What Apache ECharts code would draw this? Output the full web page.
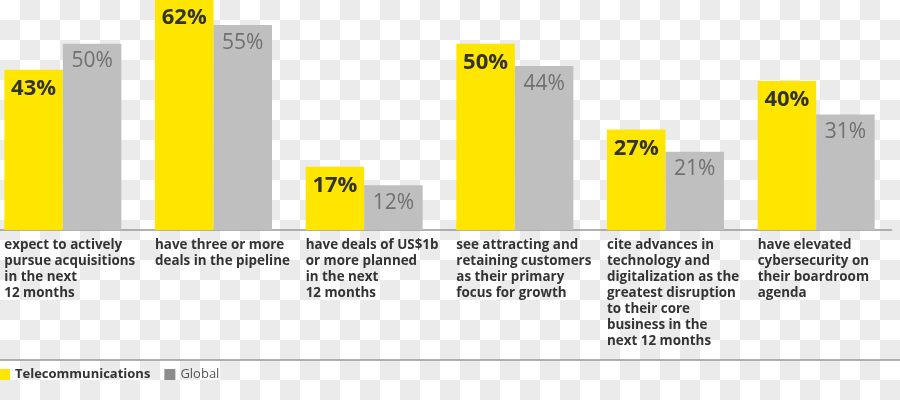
<!DOCTYPE html>
<html>
<head>
<meta charset="utf-8">
<script src="https://cdn.jsdelivr.net/npm/echarts@6/dist/echarts.min.js"></script>
<style>
html,body{margin:0;padding:0;}
body{
  background-color:#ffffff;
  background-image:conic-gradient(#ebebeb 25%, transparent 0 50%, #ebebeb 0 75%, transparent 0);
  background-size:40px 40px;
}
#chart{width:900px;height:400px;}
</style>
</head>
<body>
<div id="chart"></div>
<script>
var categories = [
  "expect to actively\npursue acquisitions\nin the next\n12 months",
  "have three or more\ndeals in the pipeline",
  "have deals of US$1b\nor more planned\nin the next\n12 months",
  "see attracting and\nretaining customers\nas their primary\nfocus for growth",
  "cite advances in\ntechnology and\ndigitalization as the\ngreatest disruption\nto their core\nbusiness in the\nnext 12 months",
  "have elevated\ncybersecurity on\ntheir boardroom\nagenda"
];
var telecom = [43, 62, 17, 50, 27, 40];
var global = [50, 55, 12, 44, 21, 31];
var seriesNames = ["Telecommunications", "Global"];

var chart = echarts.init(document.getElementById('chart'));
var FONT = '"Open Sans", sans-serif';
chart.setOption({
  backgroundColor: 'transparent',
  animation: false,
  grid: [
    {left: -12.5, width: 904, top: -1, height: 231, outerBoundsMode: 'none', containLabel: false},
    {left: -71, width: 904, top: -1, height: 231, outerBoundsMode: 'none', containLabel: false}
  ],
  xAxis: [
    {
      type: 'category', gridIndex: 0, data: categories,
      axisLine: {show: true, lineStyle: {color: '#999999', width: 1.5}},
      axisTick: {show: false},
      axisLabel: {show: false},
      splitLine: {show: false}
    },
    {
      type: 'category', gridIndex: 1, data: categories,
      axisLine: {show: false},
      axisTick: {show: false},
      axisLabel: {
        show: true, interval: 0, align: 'left', verticalAlign: 'top',
        margin: 7, color: '#333333', fontFamily: FONT, fontWeight: 'bold',
        fontSize: 13.4, lineHeight: 16
      }
    }
  ],
  yAxis: [
    {type: 'value', gridIndex: 0, min: 0, max: 62, show: false, splitLine: {show: false}},
    {type: 'value', gridIndex: 1, min: 0, max: 62, show: false, splitLine: {show: false}}
  ],
  legend: {
    left: -1, top: 368, padding: 0, itemWidth: 11, itemHeight: 11, itemGap: 14, icon: 'rect',
    textStyle: {fontFamily: FONT, fontSize: 13, color: '#333333'},
    data: [
      {name: seriesNames[0], itemStyle: {color: '#FFE600'}, textStyle: {fontWeight: 'bold', color: '#333333'}},
      {name: seriesNames[1], itemStyle: {color: '#8c8c8c'}, textStyle: {fontWeight: 'normal', color: '#555555'}}
    ]
  },
  graphic: [
    {type: 'line', shape: {x1: 0, y1: 360, x2: 900, y2: 360}, style: {stroke: '#999999', lineWidth: 1.5}}
  ],
  series: [
    {
      name: seriesNames[0], type: 'bar', data: telecom, barWidth: 58.5, barGap: '0%',
      itemStyle: {color: '#FFE600'},
      label: {
        show: true, position: 'insideTop', distance: 8, formatter: '{c}%',
        fontFamily: FONT, fontWeight: 'bold', fontSize: 22, color: '#333333'
      }
    },
    {
      name: seriesNames[1], type: 'bar', data: global, barWidth: 58.5, barGap: '0%',
      itemStyle: {color: '#BFBFBF'},
      label: {
        show: true, position: 'insideTop', distance: 7, formatter: '{c}%',
        fontFamily: FONT, fontWeight: 'normal', fontSize: 21, color: '#707070'
      }
    }
  ]
});
</script>
</body>
</html>
